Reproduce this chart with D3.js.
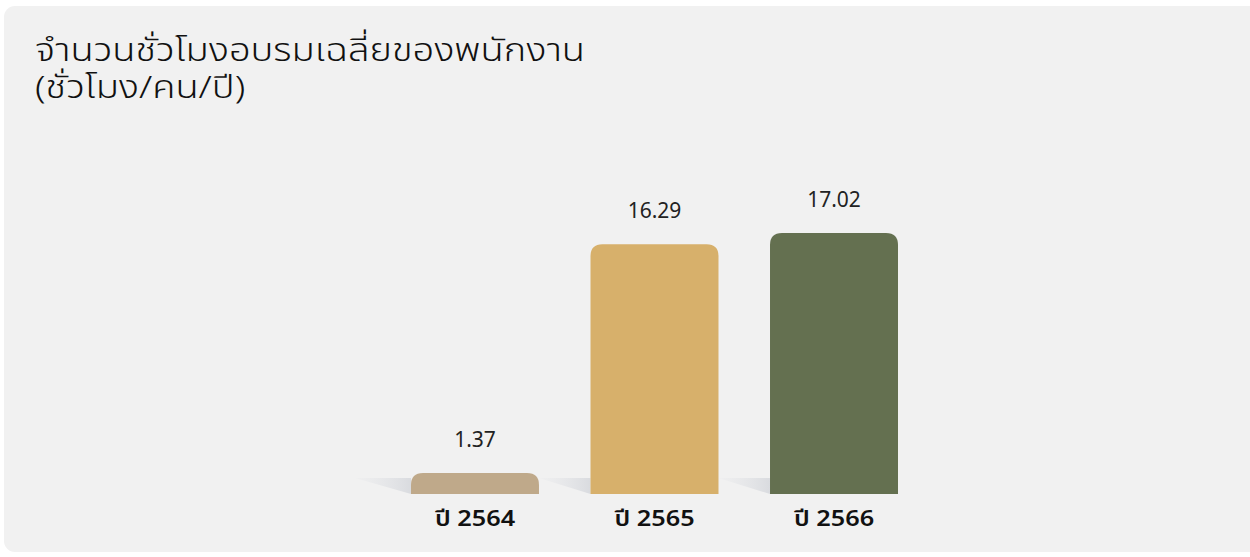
<!DOCTYPE html>
<html>
<head>
<meta charset="utf-8">
<script src="https://cdnjs.cloudflare.com/ajax/libs/d3/7.8.5/d3.min.js"></script>
<style>
  body { margin: 0; background: #fff; }
  svg { display: block; }
</style>
</head>
<body>
<div id="chart"></div>
<script>
// data
var years = ["ปี 2564", "ปี 2565", "ปี 2566"];
var hours = [1.37, 16.29, 17.02];
var barColors = ["#bfa98a", "#d7b06b", "#647050"];
var titleLines = ["จำนวนชั่วโมงอบรมเฉลี่ยของพนักงาน", "(ชั่วโมง/คน/ปี)"];

var W = 1250, H = 557;
var font = "'Noto Sans Thai', 'Noto Sans', sans-serif";
var svg = d3.select("#chart").append("svg")
  .attr("width", W).attr("height", H);

// panel
svg.append("rect")
  .attr("x", 4).attr("y", 6)
  .attr("width", W + 20).attr("height", 546)
  .attr("rx", 11)
  .attr("fill", "#f1f1f1");

// title (stretched a bit to get the wider look of the original font)
svg.append("g")
  .attr("transform", "translate(35,61) scale(1.19,1)")
  .append("text")
  .style("font-family", font)
  .style("font-weight", 300)
  .style("font-size", "32px")
  .attr("fill", "#111")
  .selectAll("tspan")
  .data(titleLines)
  .enter().append("tspan")
    .attr("x", 0)
    .attr("dy", function(d, i) { return i ? 37 : 0; })
    .text(function(d) { return d; });

// scales
var x = d3.scaleBand()
  .domain(years)
  .range([411, 898])
  .paddingInner(0.287)
  .paddingOuter(0);

var baseY = 494;
var y = d3.scaleLinear()
  .domain([0, 17.02])
  .range([baseY, 233]);

// shadow gradient
var defs = svg.append("defs");
var grad = defs.append("linearGradient")
  .attr("id", "shadow")
  .attr("x1", "0").attr("y1", "0").attr("x2", "1").attr("y2", "0");
grad.append("stop").attr("offset", "0").attr("stop-color", "#e6e7ea").attr("stop-opacity", 0.2);
grad.append("stop").attr("offset", "1").attr("stop-color", "#d9dbdf").attr("stop-opacity", 1);

// shadows to the left of each bar
svg.selectAll(".shadow")
  .data(years)
  .enter().append("path")
    .attr("class", "shadow")
    .attr("fill", "url(#shadow)")
    .attr("d", function(d, i) {
      var x1 = x(d);
      var x0 = i === 0 ? x1 - 56 : x(years[i - 1]) + x.bandwidth();
      var top = baseY - 16;
      return "M" + x0 + "," + top + "L" + x1 + "," + top + "L" + x1 + "," + baseY + "Z";
    });

// bars with rounded top corners
var r = 12;
svg.selectAll(".bar")
  .data(hours)
  .enter().append("path")
    .attr("class", "bar")
    .attr("fill", function(d, i) { return barColors[i]; })
    .attr("d", function(d, i) {
      var x0 = x(years[i]), w = x.bandwidth(), t = y(d);
      var rr = Math.min(r, baseY - t);
      return "M" + x0 + "," + baseY +
        "L" + x0 + "," + (t + rr) +
        "Q" + x0 + "," + t + " " + (x0 + rr) + "," + t +
        "L" + (x0 + w - rr) + "," + t +
        "Q" + (x0 + w) + "," + t + " " + (x0 + w) + "," + (t + rr) +
        "L" + (x0 + w) + "," + baseY + "Z";
    });

// value labels
svg.selectAll(".val")
  .data(hours)
  .enter().append("text")
    .attr("class", "val")
    .attr("x", function(d, i) { return x(years[i]) + x.bandwidth() / 2; })
    .attr("y", function(d) { return y(d) - 26; })
    .attr("text-anchor", "middle")
    .style("font-family", font)
    .style("font-weight", 400)
    .style("font-size", "21px")
    .attr("fill", "#222")
    .text(function(d) { return d.toFixed(2); });

// x axis labels
var xAxis = d3.axisBottom(x).tickSize(0).tickPadding(0);
var gx = svg.append("g")
  .attr("transform", "translate(0," + baseY + ")")
  .call(xAxis);
gx.select(".domain").remove();
gx.selectAll("text")
  .attr("y", 0)
  .attr("dy", 0)
  .attr("transform", "translate(0,32) scale(1.15,1)")
  .style("font-family", font)
  .style("font-size", "22px")
  .style("font-weight", 600)
  .attr("fill", "#111");
</script>
</body>
</html>
